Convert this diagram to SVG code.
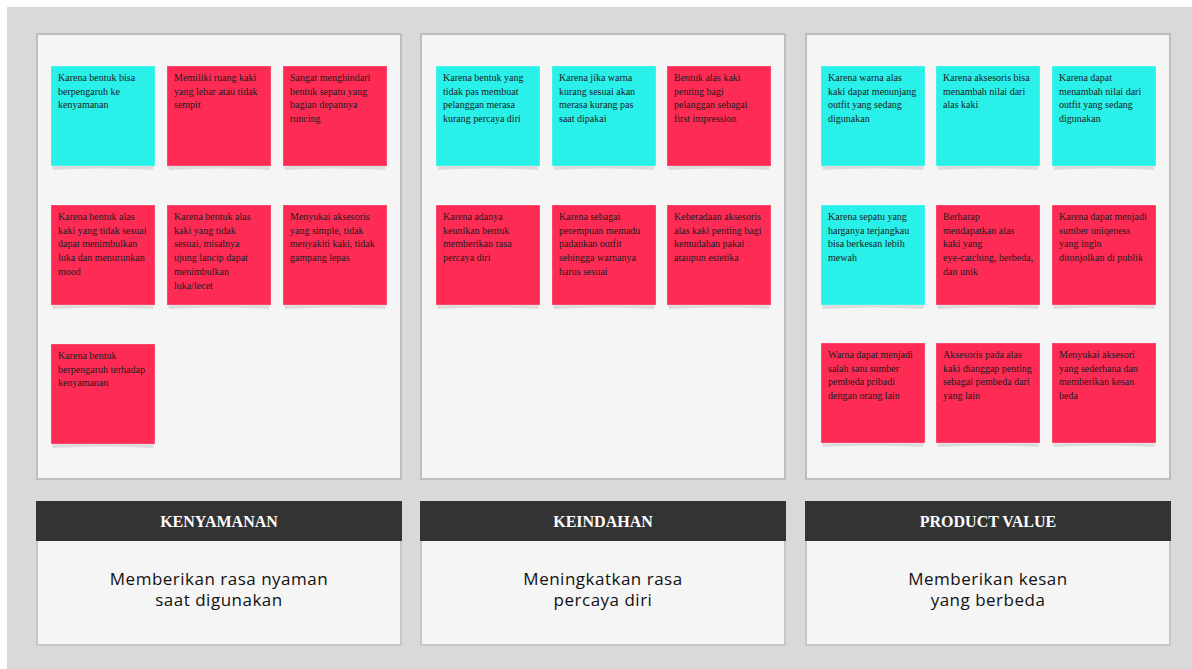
<svg xmlns="http://www.w3.org/2000/svg" width="1192" height="669" viewBox="0 0 1192 669">
  <style>
    .board { fill: #f5f5f5; stroke: #bdbdbd; stroke-width: 2; }
    .cap-body { fill: #f5f5f5; stroke: #c6c6c6; stroke-width: 2; }
    .cap-head { fill: #333333; }
    .cap-title { font-family: "Liberation Serif", "Times New Roman", serif; font-weight: bold; font-size: 16px; fill: #ffffff; text-anchor: middle; }
    .cap-text { font-family: "Open Sans", "DejaVu Sans", sans-serif; font-size: 17px; letter-spacing: 0.5px; fill: #111111; text-anchor: middle; }
    .note rect.paper { stroke: rgba(255,255,255,0.25); stroke-width: 1; }
    .cyan { fill: #29f0e9; }
    .red { fill: #fe2c55; }
    .shade { fill: #dcdcdc; }
    .note text { font-family: "Liberation Serif", "Times New Roman", serif; font-size: 10px; fill: #1b1b1b; }
  </style>
  <defs>
    <!-- soft curled shadow under each sticky note -->
    <path id="curl" class="shade" d="M1 100 L103 100 L102 104 Q52 101 2 104 Z"/>
  </defs>

  <!-- canvas background -->
  <rect x="0" y="0" width="1192" height="669" fill="#ffffff"/>
  <rect x="7" y="7" width="1185" height="662" fill="#d9d9d9"/>

  <!-- three boards -->
  <g id="board-kenyamanan"><rect class="board" x="37" y="34" width="364" height="445"/></g>
  <g id="board-keindahan"><rect class="board" x="421" y="34" width="364" height="445"/></g>
  <g id="board-product-value"><rect class="board" x="806" y="34" width="364" height="445"/></g>

  <!-- column 1 notes -->
  <g id="note-1-1" class="note" transform="translate(51,66)">
    <use href="#curl"/><rect class="paper cyan" width="104" height="100"/>
    <text x="7" y="15"><tspan x="7">Karena bentuk bisa</tspan><tspan x="7" dy="13.7">berpengaruh ke</tspan><tspan x="7" dy="13.7">kenyamanan</tspan></text>
  </g>
  <g id="note-1-2" class="note" transform="translate(167,66)">
    <use href="#curl"/><rect class="paper red" width="104" height="100"/>
    <text x="7" y="15"><tspan x="7">Memiliki ruang kaki</tspan><tspan x="7" dy="13.7">yang lebar atau tidak</tspan><tspan x="7" dy="13.7">sempit</tspan></text>
  </g>
  <g id="note-1-3" class="note" transform="translate(283,66)">
    <use href="#curl"/><rect class="paper red" width="104" height="100"/>
    <text x="7" y="15"><tspan x="7">Sangat menghindari</tspan><tspan x="7" dy="13.7">bentuk sepatu yang</tspan><tspan x="7" dy="13.7">bagian depannya</tspan><tspan x="7" dy="13.7">runcing</tspan></text>
  </g>
  <g id="note-1-4" class="note" transform="translate(51,205)">
    <use href="#curl"/><rect class="paper red" width="104" height="100"/>
    <text x="7" y="15"><tspan x="7">Karena bentuk alas</tspan><tspan x="7" dy="13.7">kaki yang tidak sesuai</tspan><tspan x="7" dy="13.7">dapat menimbulkan</tspan><tspan x="7" dy="13.7">luka dan menurunkan</tspan><tspan x="7" dy="13.7">mood</tspan></text>
  </g>
  <g id="note-1-5" class="note" transform="translate(167,205)">
    <use href="#curl"/><rect class="paper red" width="104" height="100"/>
    <text x="7" y="15"><tspan x="7">Karena bentuk alas</tspan><tspan x="7" dy="13.7">kaki yang tidak</tspan><tspan x="7" dy="13.7">sesuai, misalnya</tspan><tspan x="7" dy="13.7">ujung lancip dapat</tspan><tspan x="7" dy="13.7">menimbulkan</tspan><tspan x="7" dy="13.7">luka/lecet</tspan></text>
  </g>
  <g id="note-1-6" class="note" transform="translate(283,205)">
    <use href="#curl"/><rect class="paper red" width="104" height="100"/>
    <text x="7" y="15"><tspan x="7">Menyukai aksesoris</tspan><tspan x="7" dy="13.7">yang simple, tidak</tspan><tspan x="7" dy="13.7">menyakiti kaki, tidak</tspan><tspan x="7" dy="13.7">gampang lepas</tspan></text>
  </g>
  <g id="note-1-7" class="note" transform="translate(51,344)">
    <use href="#curl"/><rect class="paper red" width="104" height="100"/>
    <text x="7" y="15"><tspan x="7">Karena bentuk</tspan><tspan x="7" dy="13.7">berpengaruh terhadap</tspan><tspan x="7" dy="13.7">kenyamanan</tspan></text>
  </g>

  <!-- column 2 notes -->
  <g id="note-2-1" class="note" transform="translate(436,66)">
    <use href="#curl"/><rect class="paper cyan" width="104" height="100"/>
    <text x="7" y="15"><tspan x="7">Karena bentuk yang</tspan><tspan x="7" dy="13.7">tidak pas membuat</tspan><tspan x="7" dy="13.7">pelanggan merasa</tspan><tspan x="7" dy="13.7">kurang percaya diri</tspan></text>
  </g>
  <g id="note-2-2" class="note" transform="translate(552,66)">
    <use href="#curl"/><rect class="paper cyan" width="104" height="100"/>
    <text x="7" y="15"><tspan x="7">Karena jika warna</tspan><tspan x="7" dy="13.7">kurang sesuai akan</tspan><tspan x="7" dy="13.7">merasa kurang pas</tspan><tspan x="7" dy="13.7">saat dipakai</tspan></text>
  </g>
  <g id="note-2-3" class="note" transform="translate(667,66)">
    <use href="#curl"/><rect class="paper red" width="104" height="100"/>
    <text x="7" y="15"><tspan x="7">Bentuk alas kaki</tspan><tspan x="7" dy="13.7">penting bagi</tspan><tspan x="7" dy="13.7">pelanggan sebagai</tspan><tspan x="7" dy="13.7">first impression</tspan></text>
  </g>
  <g id="note-2-4" class="note" transform="translate(436,205)">
    <use href="#curl"/><rect class="paper red" width="104" height="100"/>
    <text x="7" y="15"><tspan x="7">Karena adanya</tspan><tspan x="7" dy="13.7">keunikan bentuk</tspan><tspan x="7" dy="13.7">memberikan rasa</tspan><tspan x="7" dy="13.7">percaya diri</tspan></text>
  </g>
  <g id="note-2-5" class="note" transform="translate(552,205)">
    <use href="#curl"/><rect class="paper red" width="104" height="100"/>
    <text x="7" y="15"><tspan x="7">Karena sebagai</tspan><tspan x="7" dy="13.7">perempuan memadu</tspan><tspan x="7" dy="13.7">padankan outfit</tspan><tspan x="7" dy="13.7">sehingga warnanya</tspan><tspan x="7" dy="13.7">harus sesuai</tspan></text>
  </g>
  <g id="note-2-6" class="note" transform="translate(667,205)">
    <use href="#curl"/><rect class="paper red" width="104" height="100"/>
    <text x="7" y="15"><tspan x="7">Keberadaan aksesoris</tspan><tspan x="7" dy="13.7">alas kaki penting bagi</tspan><tspan x="7" dy="13.7">kemudahan pakai</tspan><tspan x="7" dy="13.7">ataupun estetika</tspan></text>
  </g>

  <!-- column 3 notes -->
  <g id="note-3-1" class="note" transform="translate(821,66)">
    <use href="#curl"/><rect class="paper cyan" width="104" height="100"/>
    <text x="7" y="15"><tspan x="7">Karena warna alas</tspan><tspan x="7" dy="13.7">kaki dapat menunjang</tspan><tspan x="7" dy="13.7">outfit yang sedang</tspan><tspan x="7" dy="13.7">digunakan</tspan></text>
  </g>
  <g id="note-3-2" class="note" transform="translate(936,66)">
    <use href="#curl"/><rect class="paper cyan" width="104" height="100"/>
    <text x="7" y="15"><tspan x="7">Karena aksesoris bisa</tspan><tspan x="7" dy="13.7">menambah nilai dari</tspan><tspan x="7" dy="13.7">alas kaki</tspan></text>
  </g>
  <g id="note-3-3" class="note" transform="translate(1052,66)">
    <use href="#curl"/><rect class="paper cyan" width="104" height="100"/>
    <text x="7" y="15"><tspan x="7">Karena dapat</tspan><tspan x="7" dy="13.7">menambah nilai dari</tspan><tspan x="7" dy="13.7">outfit yang sedang</tspan><tspan x="7" dy="13.7">digunakan</tspan></text>
  </g>
  <g id="note-3-4" class="note" transform="translate(821,205)">
    <use href="#curl"/><rect class="paper cyan" width="104" height="100"/>
    <text x="7" y="15"><tspan x="7">Karena sepatu yang</tspan><tspan x="7" dy="13.7">harganya terjangkau</tspan><tspan x="7" dy="13.7">bisa berkesan lebih</tspan><tspan x="7" dy="13.7">mewah</tspan></text>
  </g>
  <g id="note-3-5" class="note" transform="translate(936,205)">
    <use href="#curl"/><rect class="paper red" width="104" height="100"/>
    <text x="7" y="15"><tspan x="7">Berharap</tspan><tspan x="7" dy="13.7">mendapatkan alas</tspan><tspan x="7" dy="13.7">kaki yang</tspan><tspan x="7" dy="13.7">eye-catching, berbeda,</tspan><tspan x="7" dy="13.7">dan unik</tspan></text>
  </g>
  <g id="note-3-6" class="note" transform="translate(1052,205)">
    <use href="#curl"/><rect class="paper red" width="104" height="100"/>
    <text x="7" y="15"><tspan x="7">Karena dapat menjadi</tspan><tspan x="7" dy="13.7">sumber uniqeness</tspan><tspan x="7" dy="13.7">yang ingin</tspan><tspan x="7" dy="13.7">ditonjolkan di publik</tspan></text>
  </g>
  <g id="note-3-7" class="note" transform="translate(821,343)">
    <use href="#curl"/><rect class="paper red" width="104" height="100"/>
    <text x="7" y="15"><tspan x="7">Warna dapat menjadi</tspan><tspan x="7" dy="13.7">salah satu sumber</tspan><tspan x="7" dy="13.7">pembeda pribadi</tspan><tspan x="7" dy="13.7">dengan orang lain</tspan></text>
  </g>
  <g id="note-3-8" class="note" transform="translate(936,343)">
    <use href="#curl"/><rect class="paper red" width="104" height="100"/>
    <text x="7" y="15"><tspan x="7">Aksesoris pada alas</tspan><tspan x="7" dy="13.7">kaki dianggap penting</tspan><tspan x="7" dy="13.7">sebagai pembeda dari</tspan><tspan x="7" dy="13.7">yang lain</tspan></text>
  </g>
  <g id="note-3-9" class="note" transform="translate(1052,343)">
    <use href="#curl"/><rect class="paper red" width="104" height="100"/>
    <text x="7" y="15"><tspan x="7">Menyukai aksesori</tspan><tspan x="7" dy="13.7">yang sederhana dan</tspan><tspan x="7" dy="13.7">memberikan kesan</tspan><tspan x="7" dy="13.7">beda</tspan></text>
  </g>

  <!-- category captions -->
  <g id="caption-kenyamanan">
    <rect class="cap-body" x="37" y="540" width="364" height="105"/>
    <rect class="cap-head" x="36" y="501" width="366" height="40"/>
    <text class="cap-title" x="219" y="527">KENYAMANAN</text>
    <text class="cap-text" x="219" y="585">Memberikan rasa nyaman</text>
    <text class="cap-text" x="219" y="606">saat digunakan</text>
  </g>
  <g id="caption-keindahan">
    <rect class="cap-body" x="421" y="540" width="364" height="105"/>
    <rect class="cap-head" x="420" y="501" width="366" height="40"/>
    <text class="cap-title" x="603" y="527">KEINDAHAN</text>
    <text class="cap-text" x="603" y="585">Meningkatkan rasa</text>
    <text class="cap-text" x="603" y="606">percaya diri</text>
  </g>
  <g id="caption-product-value">
    <rect class="cap-body" x="806" y="540" width="364" height="105"/>
    <rect class="cap-head" x="805" y="501" width="366" height="40"/>
    <text class="cap-title" x="988" y="527">PRODUCT VALUE</text>
    <text class="cap-text" x="988" y="585">Memberikan kesan</text>
    <text class="cap-text" x="988" y="606">yang berbeda</text>
  </g>
</svg>
